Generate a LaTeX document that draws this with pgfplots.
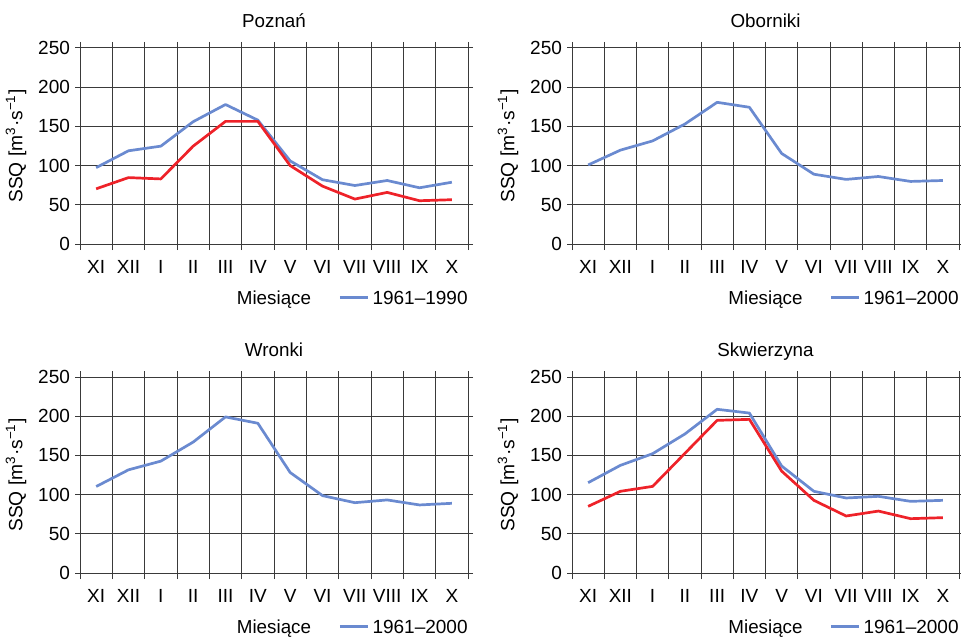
\documentclass[border=0pt]{standalone}
\usepackage{fontspec}
\setmainfont{Liberation Sans}
\usepackage{pgfplots}
\pgfplotsset{compat=1.18}
\definecolor{serblue}{HTML}{6A8AD0}
\definecolor{serred}{HTML}{EE2229}
\definecolor{gridc}{HTML}{3A3A3A}
\pgfplotsset{
  panel/.style={
    scale only axis, width=194pt, height=98pt, anchor=south west,
    xmin=0, xmax=12, ymin=0, ymax=250,
    xtick={0.5,1.5,...,11.5},
    xticklabels={XI,XII,I,II,III,IV,V,VI,VII,VIII,IX,X},
    minor xtick={0,1,...,12},
    ytick={0,50,...,250},
    xminorgrids, ymajorgrids,
    tick align=outside,
    major x tick style={draw=none},
    major tick length=2.5pt, minor tick length=3pt,
    every tick/.style={gridc, line width=0.5pt},
    minor tick style={gridc, line width=0.5pt},
    grid style={gridc, line width=0.5pt},
    minor grid style={gridc, line width=0.5pt},
    axis line style={gridc, line width=0.5pt},
    axis lines=box,
    font=\fontsize{9.4}{10}\selectfont,
    tick label style={font=\fontsize{9.5}{10}\selectfont},
    /pgf/number format/assume math mode=true,
    xticklabel style={anchor=base, yshift=-12pt},
    yticklabel style={anchor=east, xshift=1pt},
    ylabel={SSQ [m\textsuperscript{3}·s\textsuperscript{−1}]},
    ylabel style={at={(axis description cs:-0.165,0.5)}, anchor=center, rotate=0, font=\fontsize{9.6}{10}\selectfont},
    xlabel={Miesiące},
    xlabel style={at={(axis description cs:0.5,0)}, anchor=base, yshift=-30pt},
    title style={at={(axis description cs:0.5,1)}, anchor=base, yshift=4.3pt, font=\fontsize{9.4}{10}\selectfont},
    legend style={at={(axis description cs:1.0,0)}, anchor=base east, yshift=-30pt,
      draw=none, fill=none, inner sep=0pt, font=\fontsize{9.5}{10}\selectfont,
      nodes={inner sep=0pt, anchor=base west}},
    legend image code/.code={\draw[#1] (0pt,0.32em) -- (14pt,0.32em);},
    legend cell align=left,
  },
  blueline/.style={serblue, line width=1.35pt, line join=round},
  redline/.style={serred, line width=1.35pt, line join=round},
}
\begin{document}
\begin{tikzpicture}
\useasboundingbox (0,0) rectangle (480.5pt,319pt);
% Poznan
\begin{axis}[panel, at={(40pt,197pt)}, title={Poznań}]
\addplot[blueline] coordinates {(0.5,97.4) (1.5,118.9) (2.5,124.8) (3.5,156) (4.5,177.9) (5.5,158) (6.5,106) (7.5,82) (8.5,74.6) (9.5,81) (10.5,71.7) (11.5,78.8)};
\addlegendentry{\,1961–1990}
\addplot[redline, forget plot] coordinates {(0.5,70.4) (1.5,84.7) (2.5,83) (3.5,124.8) (4.5,156.4) (5.5,156.4) (6.5,100) (7.5,73.8) (8.5,57.3) (9.5,65.8) (10.5,55.2) (11.5,56.5)};
\end{axis}
% Oborniki
\begin{axis}[panel, at={(286pt,197pt)}, width=193.5pt, title={Oborniki}]
\addplot[blueline] coordinates {(0.5,100.8) (1.5,119.7) (2.5,131.5) (3.5,153) (4.5,180.7) (5.5,174.4) (6.5,115.5) (7.5,89) (8.5,82.4) (9.5,86.1) (10.5,79.8) (11.5,81)};
\addlegendentry{\,1961–2000}
\end{axis}
% Wronki
\begin{axis}[panel, at={(40pt,32.5pt)}, title={Wronki}]
\addplot[blueline] coordinates {(0.5,110.3) (1.5,131.6) (2.5,142.7) (3.5,167) (4.5,199.1) (5.5,191) (6.5,128.2) (7.5,98.7) (8.5,89.7) (9.5,93.2) (10.5,86.8) (11.5,88.9)};
\addlegendentry{\,1961–2000}
\end{axis}
% Skwierzyna
\begin{axis}[panel, at={(286pt,32.5pt)}, width=193.5pt, title={Skwierzyna}]
\addplot[blueline] coordinates {(0.5,115.2) (1.5,137.3) (2.5,152.2) (3.5,177.3) (4.5,208.8) (5.5,204) (6.5,136.5) (7.5,104.2) (8.5,95.7) (9.5,97.8) (10.5,91.4) (11.5,92.7)};
\addlegendentry{\,1961–2000}
\addplot[redline, forget plot] coordinates {(0.5,85) (1.5,104.2) (2.5,110.5) (3.5,152.6) (4.5,194.7) (5.5,196) (6.5,130) (7.5,92.7) (8.5,72.7) (9.5,79) (10.5,69.3) (11.5,70.6)};
\end{axis}
\end{tikzpicture}
\end{document}
